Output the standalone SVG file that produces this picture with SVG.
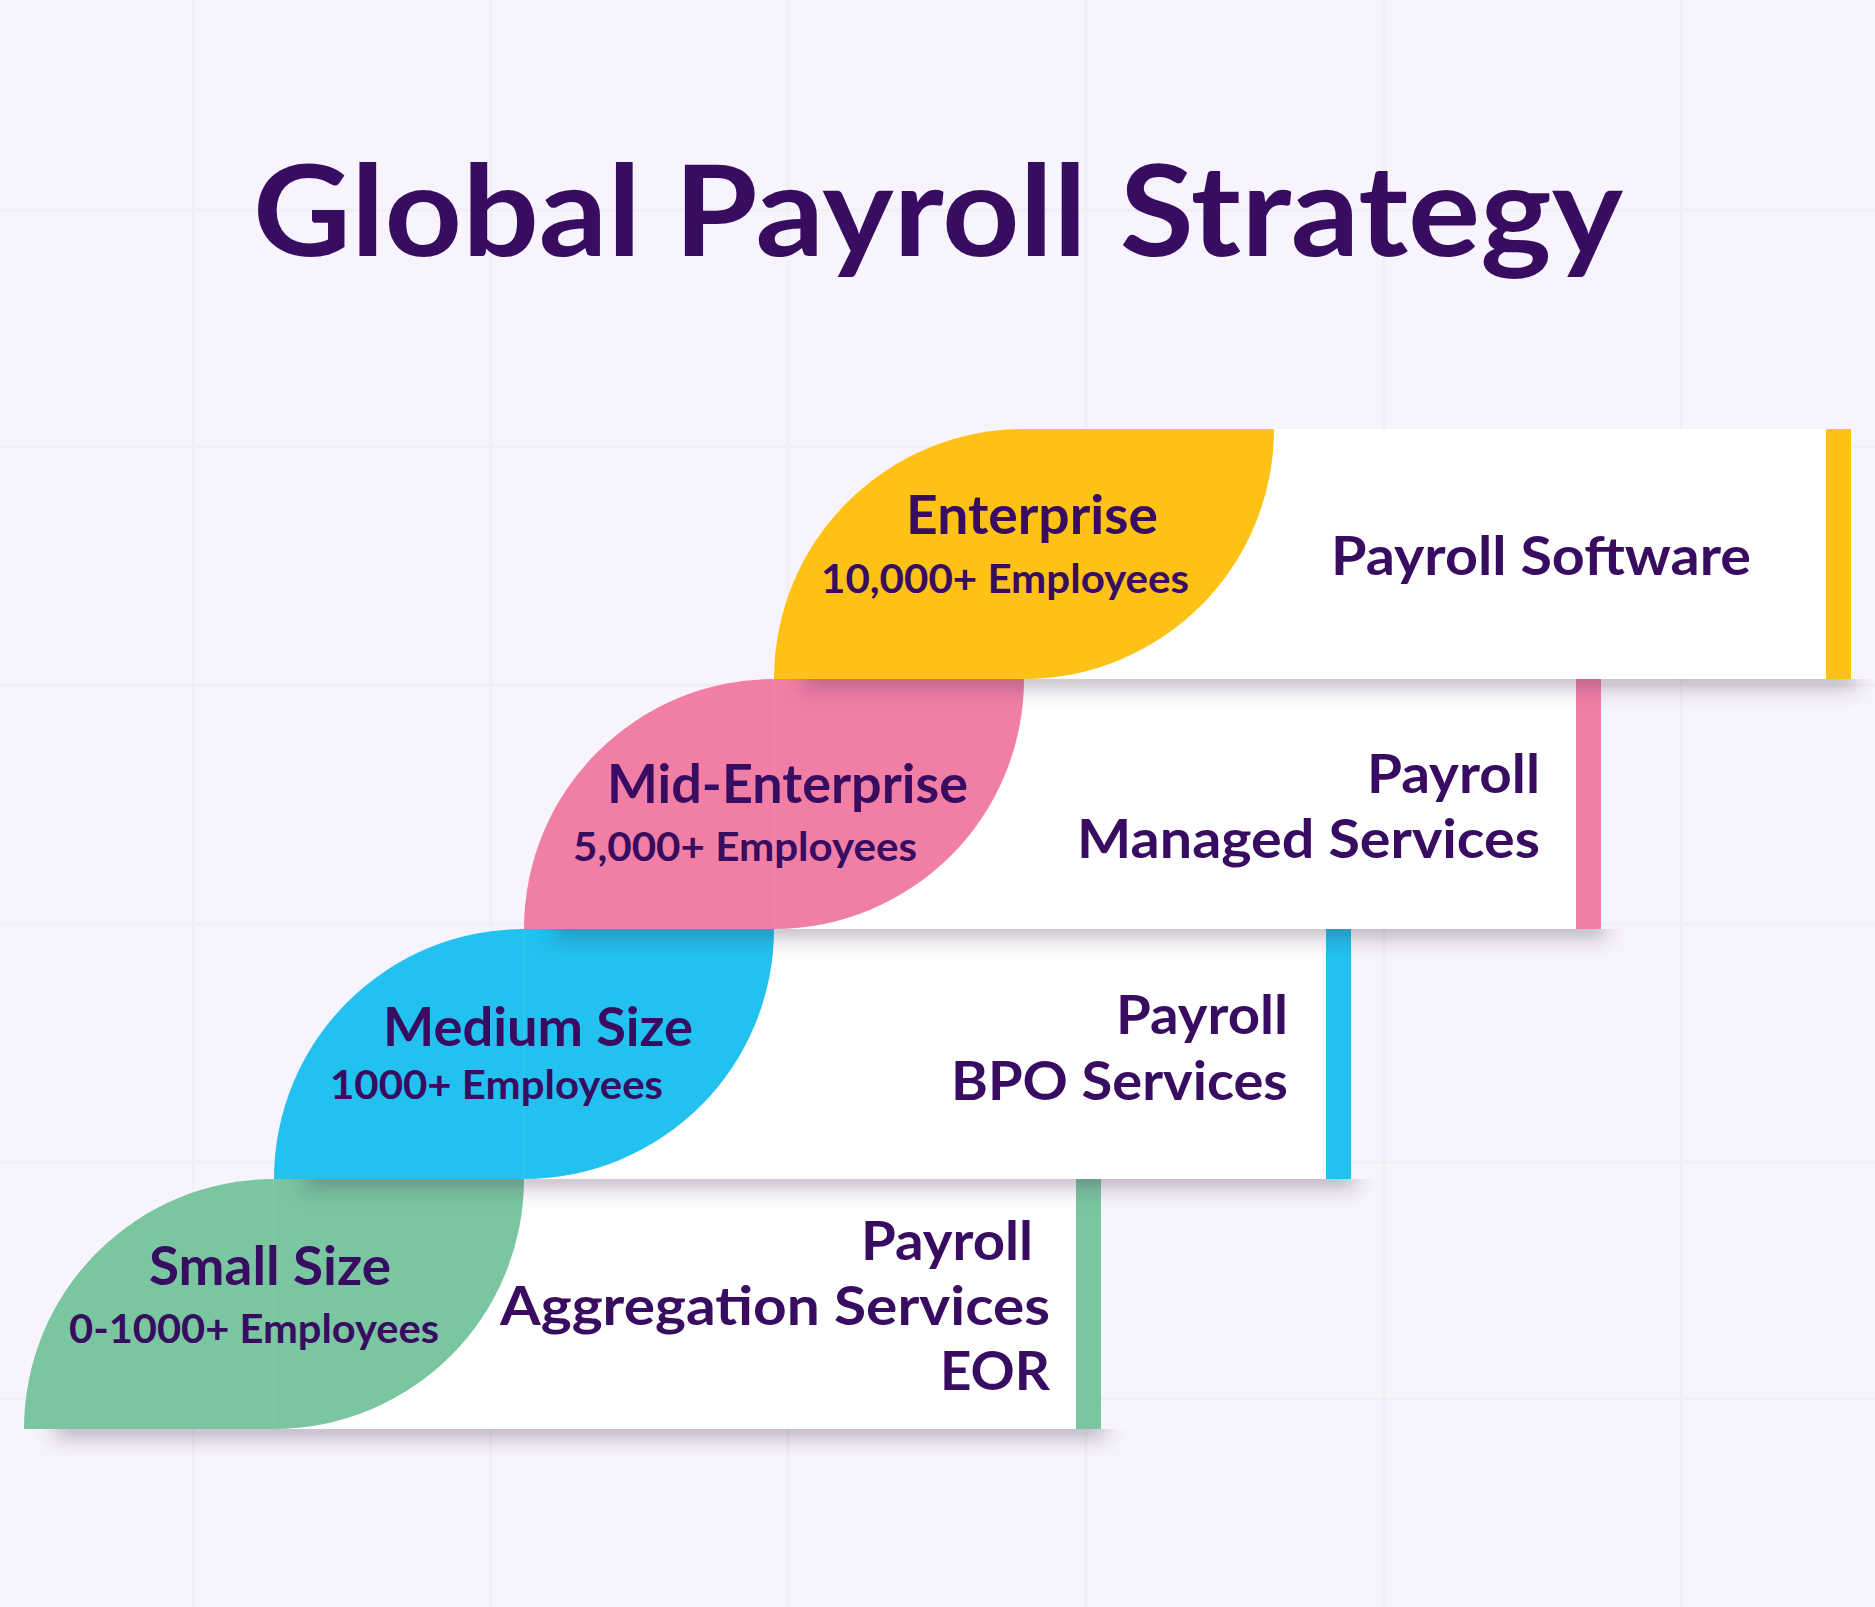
<svg xmlns="http://www.w3.org/2000/svg" width="1875" height="1607" viewBox="0 0 1875 1607">
  <defs>
    <style>
      .t { font-family: Lato, "Noto Sans", "Liberation Sans", sans-serif; font-weight: 700; fill: #380c60; }
      .h { font-size: 53px; }
      .s { font-size: 40px; }
      .grid line { stroke: #f1eef4; stroke-width: 3; }
      .card { fill: #ffffff; }
      .seam { stroke: #ffffff; stroke-opacity: 0.07; stroke-width: 1.5; }
    </style>
    <filter id="blur" x="-10%" y="-200%" width="120%" height="500%">
      <feGaussianBlur stdDeviation="10"/>
    </filter>
    <clipPath id="c1"><rect x="0" y="679" width="1875" height="80"/></clipPath>
    <clipPath id="c2"><rect x="0" y="929" width="1875" height="80"/></clipPath>
    <clipPath id="c3"><rect x="0" y="1179" width="1875" height="80"/></clipPath>
    <clipPath id="c4"><rect x="0" y="1429" width="1875" height="80"/></clipPath>
  </defs>

  <rect x="0" y="0" width="1875" height="1607" fill="#f8f4fd"/>
  <g class="grid">
    <line x1="193" y1="0" x2="193" y2="1607"/>
    <line x1="491" y1="0" x2="491" y2="1607"/>
    <line x1="788" y1="0" x2="788" y2="1607"/>
    <line x1="1086" y1="0" x2="1086" y2="1607"/>
    <line x1="1384" y1="0" x2="1384" y2="1607"/>
    <line x1="1681" y1="0" x2="1681" y2="1607"/>
    <line x1="0" y1="210" x2="1875" y2="210"/>
    <line x1="0" y1="447" x2="1875" y2="447"/>
    <line x1="0" y1="685" x2="1875" y2="685"/>
    <line x1="0" y1="924" x2="1875" y2="924"/>
    <line x1="0" y1="1162" x2="1875" y2="1162"/>
    <line x1="0" y1="1399" x2="1875" y2="1399"/>
  </g>

  <text id="title" class="t" x="253" y="256" font-size="127" font-weight="900" textLength="1370" lengthAdjust="spacingAndGlyphs">Global Payroll Strategy</text>

  <!-- Row 4: Small Size -->
  <g clip-path="url(#c4)"><rect x="54" y="1412" width="1052" height="26" fill="#3d2b4d" fill-opacity="0.32" filter="url(#blur)"/></g>
  <g id="small-size">
    <rect class="card" x="274" y="1179" width="802" height="250"/>
    <rect x="1076" y="1179" width="25" height="250" fill="#79c6a0"/>
    <path d="M24,1429 A250,250 0 0 1 274,1179 H524 A250,250 0 0 1 274,1429 Z" fill="#79c6a0"/>
    <line class="seam" x1="274" y1="1179" x2="274" y2="1429"/>
    <text class="t h" x="149" y="1285" textLength="242" lengthAdjust="spacingAndGlyphs">Small Size</text>
    <text class="t s" x="69" y="1343" textLength="370" lengthAdjust="spacingAndGlyphs">0-1000+ Employees</text>
    <text class="t h" x="861" y="1260" textLength="172" lengthAdjust="spacingAndGlyphs">Payroll</text>
    <text class="t h" x="500" y="1325" textLength="550" lengthAdjust="spacingAndGlyphs">Aggregation Services</text>
    <text class="t h" x="940" y="1390" textLength="110" lengthAdjust="spacingAndGlyphs">EOR</text>
  </g>

  <!-- Row 3: Medium Size -->
  <g clip-path="url(#c3)"><rect x="304" y="1162" width="1052" height="26" fill="#3d2b4d" fill-opacity="0.32" filter="url(#blur)"/></g>
  <g id="medium-size">
    <rect class="card" x="524" y="929" width="802" height="250"/>
    <rect x="1326" y="929" width="25" height="250" fill="#22c1ef"/>
    <path d="M274,1179 A250,250 0 0 1 524,929 H774 A250,250 0 0 1 524,1179 Z" fill="#22c1ef"/>
    <line class="seam" x1="524" y1="929" x2="524" y2="1179"/>
    <text class="t h" x="383" y="1046" textLength="310" lengthAdjust="spacingAndGlyphs">Medium Size</text>
    <text class="t s" x="330" y="1099" textLength="333" lengthAdjust="spacingAndGlyphs">1000+ Employees</text>
    <text class="t h" x="1116" y="1034" textLength="172" lengthAdjust="spacingAndGlyphs">Payroll</text>
    <text class="t h" x="951" y="1100" textLength="337" lengthAdjust="spacingAndGlyphs">BPO Services</text>
  </g>

  <!-- Row 2: Mid-Enterprise -->
  <g clip-path="url(#c2)"><rect x="554" y="912" width="1052" height="26" fill="#3d2b4d" fill-opacity="0.32" filter="url(#blur)"/></g>
  <g id="mid-enterprise">
    <rect class="card" x="774" y="679" width="802" height="250"/>
    <rect x="1576" y="679" width="25" height="250" fill="#f17fa5"/>
    <path d="M524,929 A250,250 0 0 1 774,679 H1024 A250,250 0 0 1 774,929 Z" fill="#f17fa5"/>
    <line class="seam" x1="774" y1="679" x2="774" y2="929"/>
    <text class="t h" x="607" y="803" textLength="361" lengthAdjust="spacingAndGlyphs">Mid-Enterprise</text>
    <text class="t s" x="573" y="861" textLength="344" lengthAdjust="spacingAndGlyphs">5,000+ Employees</text>
    <text class="t h" x="1367" y="793" textLength="173" lengthAdjust="spacingAndGlyphs">Payroll</text>
    <text class="t h" x="1077" y="858" textLength="463" lengthAdjust="spacingAndGlyphs">Managed Services</text>
  </g>

  <!-- Row 1: Enterprise -->
  <g clip-path="url(#c1)"><rect x="804" y="662" width="1052" height="26" fill="#3d2b4d" fill-opacity="0.32" filter="url(#blur)"/></g>
  <g id="enterprise">
    <rect class="card" x="1024" y="429" width="802" height="250"/>
    <rect x="1826" y="429" width="25" height="250" fill="#fec116"/>
    <path d="M774,679 A250,250 0 0 1 1024,429 H1274 A250,250 0 0 1 1024,679 Z" fill="#fec116"/>
    <line class="seam" x1="1024" y1="429" x2="1024" y2="679"/>
    <text class="t h" x="906" y="534" textLength="252" lengthAdjust="spacingAndGlyphs">Enterprise</text>
    <text class="t s" x="821" y="593" textLength="368" lengthAdjust="spacingAndGlyphs">10,000+ Employees</text>
    <text class="t h" x="1331" y="575" textLength="420" lengthAdjust="spacingAndGlyphs">Payroll Software</text>
  </g>

  <g id="connectors"/>
</svg>
